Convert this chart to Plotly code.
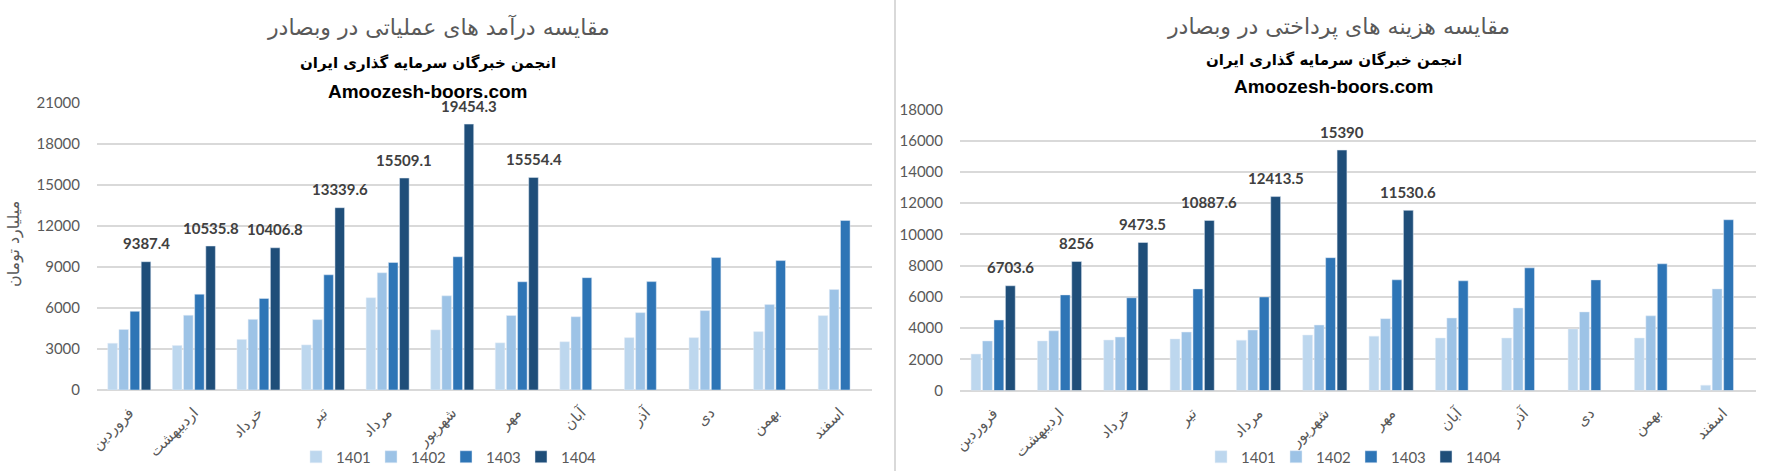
import plotly.graph_objects as go

# ---------------- data ----------------
months = ["فروردین", "اردیبهشت", "خرداد", "تیر", "مرداد", "شهریور",
          "مهر", "آبان", "آذر", "دی", "بهمن", "اسفند"]
years = ["1401", "1402", "1403", "1404"]

# operating revenue (billion toman)
rev_1401 = [3420, 3260, 3700, 3300, 6750, 4400, 3450, 3530, 3830, 3830, 4270, 5440]
rev_1402 = [4430, 5470, 5170, 5150, 8580, 6890, 5450, 5360, 5660, 5810, 6250, 7350]
rev_1403 = [5760, 7010, 6700, 8430, 9330, 9750, 7920, 8220, 7930, 9690, 9470, 12400]
rev_1404 = [9387.4, 10535.8, 10406.8, 13339.6, 15509.1, 19454.3, 15554.4,
            None, None, None, None, None]

# paid expenses
exp_1401 = [2330, 3170, 3230, 3300, 3220, 3550, 3480, 3360, 3360, 3940, 3360, 340]
exp_1402 = [3170, 3820, 3420, 3740, 3870, 4190, 4600, 4640, 5285, 5030, 4780, 6505]
exp_1403 = [4515, 6120, 5935, 6505, 5990, 8502, 7085, 7021, 7850, 7080, 8110, 10930]
exp_1404 = [6703.6, 8256, 9473.5, 10887.6, 12413.5, 15390, 11530.6,
            None, None, None, None, None]

title_left = "مقایسه درآمد های عملیاتی در وبصادر"
title_right = "مقایسه هزینه های پرداختی در وبصادر"
subtitle = "انجمن خبرگان سرمایه گذاری ایران"
site = "Amoozesh-boors.com"
ytitle_left = "میلیارد تومان"

# ---------------- style ----------------
colors = ["#BDD7EE", "#9DC3E6", "#2E75B6", "#1F4E79"]
W, H = 1765, 471
GRID = "#d9d9d9"
TXT = "#595959"
LAT = "Lato, DejaVu Sans, sans-serif"
FA = "DejaVu Sans, sans-serif"

left_x = [97, 872]
right_x = [960, 1756]
left_y = [390, 103]
right_y = [390.5, 109.3]
bargap = 0.31

fig = go.Figure()
for ys, c, name in zip([rev_1401, rev_1402, rev_1403, rev_1404], colors, years):
    fig.add_trace(go.Bar(x=months, y=ys, name=name, marker_color=c,
                         xaxis="x", yaxis="y", legend="legend"))
for ys, c, name in zip([exp_1401, exp_1402, exp_1403, exp_1404], colors, years):
    fig.add_trace(go.Bar(x=months, y=ys, name=name, marker_color=c,
                         xaxis="x2", yaxis="y2", legend="legend2"))

ax_common = dict(showgrid=False, showline=False, ticks="", tickangle=-45,
                 tickfont=dict(family=FA, size=15, color=TXT), automargin=False,
                 ticklabelstandoff=10, fixedrange=True)
yax_common = dict(showgrid=True, gridcolor=GRID, gridwidth=2, zeroline=True,
                  zerolinecolor=GRID, zerolinewidth=2, showline=False, ticks="",
                  tickformat="d", automargin=False,
                  tickfont=dict(family=LAT, size=15, color=TXT),
                  ticklabelstandoff=16, fixedrange=True)

fig.update_layout(
    width=W, height=H,
    margin=dict(l=0, r=0, t=0, b=0, autoexpand=False),
    paper_bgcolor="white", plot_bgcolor="white",
    barmode="group", bargap=bargap, bargroupgap=0.14,
    font=dict(family=LAT, color=TXT),
    xaxis=dict(domain=[left_x[0] / W, left_x[1] / W], anchor="y", **ax_common),
    yaxis=dict(domain=[1 - left_y[0] / H, 1 - left_y[1] / H], anchor="x",
               range=[0, 21000], tickvals=list(range(0, 21001, 3000)), **yax_common),
    xaxis2=dict(domain=[right_x[0] / W, right_x[1] / W], anchor="y2", **ax_common),
    yaxis2=dict(domain=[1 - right_y[0] / H, 1 - right_y[1] / H], anchor="x2",
                range=[0, 18000], tickvals=list(range(0, 18001, 2000)), **yax_common),
    legend=dict(orientation="h", x=446 / W, y=1 - 457 / H, xanchor="center",
                yanchor="middle", font=dict(family=LAT, size=15, color=TXT),
                entrywidth=30, bgcolor="rgba(0,0,0,0)"),
    legend2=dict(orientation="h", x=1351 / W, y=1 - 457 / H, xanchor="center",
                 yanchor="middle", font=dict(family=LAT, size=15, color=TXT),
                 entrywidth=30, bgcolor="rgba(0,0,0,0)"),
)

# data labels on the 1404 bars
def add_labels(vals, xref, yref, xpx):
    slot = (xpx[1] - xpx[0]) / len(months) * (1 - bargap) / 4
    for m, v in zip(months, vals):
        if v is None:
            continue
        fig.add_annotation(x=m, y=v, xref=xref, yref=yref, text=f"{v:g}",
                           showarrow=False, xshift=1.5 * slot, yshift=18.5,
                           yanchor="middle",
                           font=dict(family=LAT, size=15, color="#404040", weight="bold"))

add_labels(rev_1404, "x", "y", left_x)
add_labels(exp_1404, "x2", "y2", right_x)

# titles
def title_block(xc_title, xc_sub, y_title, y_sub, y_site, text):
    fig.add_annotation(x=xc_title / W, y=1 - y_title / H, xref="paper", yref="paper",
                       text=text, showarrow=False, xanchor="center", yanchor="middle",
                       font=dict(family=FA, size=22, color=TXT))
    fig.add_annotation(x=xc_sub / W, y=1 - y_sub / H, xref="paper", yref="paper",
                       text=subtitle, showarrow=False, xanchor="center", yanchor="middle",
                       font=dict(family=FA, size=15, color="black", weight="bold"))
    fig.add_annotation(x=xc_sub / W, y=1 - y_site / H, xref="paper", yref="paper",
                       text=site, showarrow=False, xanchor="center", yanchor="middle",
                       font=dict(family="Liberation Sans, Arial, sans-serif", size=19,
                                 color="black", weight="bold"))

title_block(438, 428, 27, 63, 92, title_left)
title_block(1338, 1334, 27, 60, 87, title_right)

# y axis title (left chart)
fig.add_annotation(x=14 / W, y=1 - 244 / H, xref="paper", yref="paper",
                   text=ytitle_left, showarrow=False, textangle=-90,
                   xanchor="center", yanchor="middle",
                   font=dict(family=FA, size=16, color=TXT))

# separator between the two chart areas
fig.add_shape(type="line", xref="paper", yref="paper", x0=895 / W, x1=895 / W,
              y0=0, y1=1, line=dict(color=GRID, width=2))

fig.write_html("out.html", config={"displayModeBar": False},
               post_script="document.body.style.margin='0';document.body.style.overflow='hidden';")
